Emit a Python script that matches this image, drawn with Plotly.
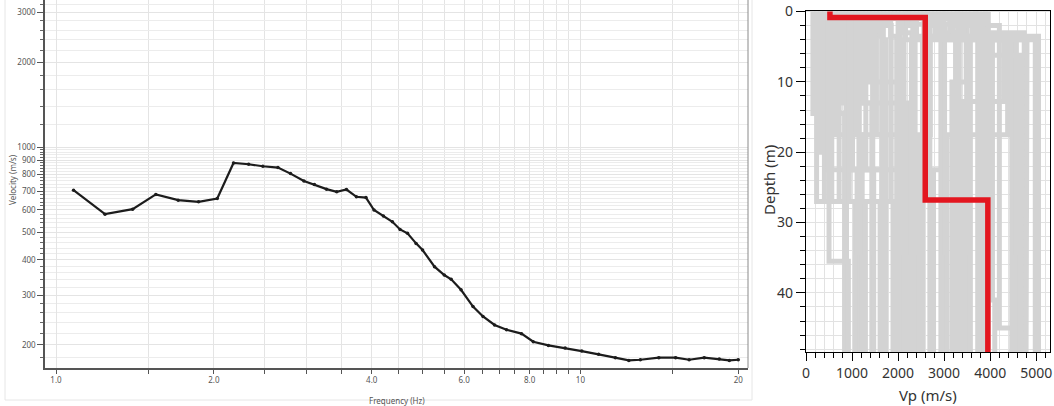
import plotly.graph_objects as go

# ---------------- Left panel: dispersion curve ----------------
freq_hz = [1.08, 1.24, 1.40, 1.55, 1.71, 1.87, 2.03, 2.18, 2.33, 2.48, 2.65, 2.80,
           2.97, 3.11, 3.28, 3.43, 3.58, 3.74, 3.90, 4.04, 4.21, 4.38, 4.53, 4.68,
           4.86, 5.00, 5.27, 5.50, 5.67, 5.92, 6.24, 6.52, 6.86, 7.23, 7.72, 8.13,
           8.69, 9.35, 10.06, 10.83, 11.66, 12.37, 13.01, 14.11, 15.19, 16.12,
           17.22, 18.40, 19.23, 20.0]
phase_vel = [705, 580, 604, 681, 650, 641, 659, 880, 871, 857, 848, 807,
             760, 738, 711, 696, 709, 668, 664, 600, 571, 545, 512, 496,
             457, 433, 378, 353, 341, 313, 273, 252, 235, 226, 219, 205,
             199, 195, 190, 185, 180, 176, 177, 180, 180, 177,
             180, 178, 176, 177]

freq_tick_vals = [1.0, 2.0, 4.0, 6.0, 8.0, 10, 20]
freq_tick_text = ["1.0", "2.0", "4.0", "6.0", "8.0", "10", "20"]
freq_minor_vals = [1.5, 2.5, 3.0, 3.5, 4.5, 5.0, 5.5, 6.5, 7.0, 7.5, 8.5, 9.0, 9.5, 15]
vel_tick_vals = [200, 300, 400, 500, 600, 700, 800, 900, 1000, 2000, 3000]
vel_tick_text = ["200", "300", "400", "500", "600", "700", "800", "900", "1000", "2000", "3000"]
vel_minor_vals = [160, 180, 220, 240, 260, 280, 320, 340, 360, 380, 420, 440, 460, 480,
                  520, 540, 560, 580, 620, 640, 660, 680, 720, 740, 760, 780,
                  820, 840, 860, 880, 920, 940, 960, 980,
                  1200, 1400, 1600, 1800, 2200, 2400, 2600, 2800, 3200]

# ---------------- Right panel: Vp profiles ----------------
# each profile: layer velocities (m/s) and layer-bottom depths (m); last layer to bottom
gray_vp = [
    [150, 840], [230, 880], [320, 500, 920], [400, 1070], [480, 1110], [560, 1170],
    [640, 1220], [720, 1290], [800, 1430], [870, 1470], [940, 1610],
    [1010, 1660], [1080, 1710], [1150, 1930], [1230, 1990], [1300, 2060],
    [1380, 2120], [1450, 2190], [1530, 2250],
    [1600, 1650], [1680, 1730], [1760, 1850, 1890], [1840, 1970], [1920, 2050],
    [2000, 2130], [2080, 2300, 2210], [2160, 2290], [2240, 2370], [2320, 2700, 2450],
    [2400, 2530], [2480, 2690], [2560, 2950, 2770], [2640, 2930], [2720, 3010],
    [2800, 3480, 3170], [2880, 3250], [2960, 3330], [3040, 3490], [3120, 3570],
    [3200, 3730], [3280, 3810], [3360, 3870], [3440, 4050, 4100], [3520, 4200, 4500],
    [3600, 4470], [3680, 4570], [3760, 4650], [3840, 4740], [3900, 4800, 4780],
    [3950, 4980], [3700, 5050], [2200, 3950], [3000, 4300, 3400], [3300, 4380, 3060],
]
gray_tops = [
    [14.5], [27], [20, 35.5], [27], [22.5], [27],
    [17.5], [27], [13], [22.5], [27],
    [22.5], [17.5], [27], [13], [22.5],
    [10], [27], [17.5],
    [3.5], [4], [2, 27], [3.5], [1],
    [4], [3, 13], [4], [2], [3.5, 17.5],
    [4], [1], [3.5, 22.5], [4], [2],
    [3.5, 10], [3], [4], [1], [4],
    [3.5], [2], [4], [3.5, 41], [2, 45],
    [4], [3.5], [6.2], [3], [4, 8],
    [4], [3.5], [1.8], [3.7, 12.8], [3.7, 17.5],
]
red_vp = [520, 2590, 3950]
red_tops = [0.85, 26.8]
model_bottom = 49.0


def step_path(vps, tops, bottom):
    bounds = [0.0] + list(tops) + [bottom]
    xs, ys = [], []
    for i, v in enumerate(vps):
        xs += [v, v]
        ys += [bounds[i], bounds[i + 1]]
    return xs, ys


gx, gy = [], []
for vps, tops in zip(gray_vp, gray_tops):
    xs, ys = step_path(vps, tops, model_bottom)
    gx += xs + [None]
    gy += ys + [None]
rx, ry = step_path(red_vp, red_tops, model_bottom)

W, H = 1054, 406
FONT = "Noto Sans"

fig = go.Figure()
fig.add_trace(go.Scatter(
    x=freq_hz, y=phase_vel, mode="lines+markers",
    line=dict(color="#1c1c1c", width=2.2),
    marker=dict(color="#1c1c1c", size=3.5),
    xaxis="x", yaxis="y", showlegend=False, hoverinfo="skip"))
fig.add_trace(go.Scatter(
    x=gx, y=gy, mode="lines", line=dict(color="#d3d3d3", width=5),
    xaxis="x2", yaxis="y2", showlegend=False, hoverinfo="skip"))
fig.add_trace(go.Scatter(
    x=rx, y=ry, mode="lines", line=dict(color="#e3161f", width=5.5),
    xaxis="x2", yaxis="y2", showlegend=False, hoverinfo="skip"))

small = dict(family=FONT, size=8, color="#555")
big = dict(family=FONT, size=14, color="#333")

fig.update_layout(
    width=W, height=H, margin=dict(l=0, r=0, t=0, b=0, autoexpand=False),
    paper_bgcolor="white", plot_bgcolor="white",
    font=dict(family=FONT),
    xaxis=dict(
        type="log", range=[-0.021, 1.3196], domain=[45 / W, 748 / W], automargin=False,
        tickmode="array", tickvals=freq_tick_vals, ticktext=freq_tick_text,
        ticks="outside", ticklen=4, tickcolor="#555", tickfont=small,
        showline=True, linecolor="#555", linewidth=1.5,
        showgrid=True, gridcolor="#e4e4e4", gridwidth=1, zeroline=False,
        minor=dict(tickmode="array", tickvals=freq_minor_vals, ticks="outside",
                   ticklen=4, tickcolor="#555", showgrid=True, gridcolor="#e4e4e4"),
        anchor="y"),
    yaxis=dict(
        type="log", range=[2.2188, 3.5214], domain=[(H - 368) / H, 1.0], automargin=False,
        tickmode="array", tickvals=vel_tick_vals, ticktext=vel_tick_text,
        ticks="outside", ticklen=6, tickcolor="#555", tickfont=small,
        showline=True, linecolor="#555", linewidth=1.5,
        showgrid=True, gridcolor="#e4e4e4", gridwidth=1, zeroline=False,
        minor=dict(tickmode="array", tickvals=vel_minor_vals, ticks="outside",
                   ticklen=3, tickcolor="#666", showgrid=True, gridcolor="#ececec"),
        anchor="x"),
    xaxis2=dict(
        range=[0, 5300], domain=[806 / W, 1050 / W], automargin=False,
        tickmode="linear", tick0=0, dtick=1000,
        ticks="outside", ticklen=8, tickcolor="black", tickfont=big,
        showline=True, linecolor="black", linewidth=1.2, mirror=True,
        showgrid=True, gridcolor="#e2e2e2", zeroline=False,
        minor=dict(dtick=200, ticks="outside", ticklen=5, tickcolor="black",
                   showgrid=True, gridcolor="#e2e2e2"),
        anchor="y2"),
    yaxis2=dict(
        range=[48.4, -0.15], domain=[(H - 352) / H, (H - 10.5) / H], automargin=False,
        tickmode="linear", tick0=0, dtick=10,
        ticks="outside", ticklen=9, tickcolor="black", tickfont=big,
        showline=True, linecolor="black", linewidth=1.2, mirror=True,
        showgrid=True, gridcolor="#e2e2e2", zeroline=False,
        minor=dict(dtick=2, ticks="outside", ticklen=5, tickcolor="black",
                   showgrid=True, gridcolor="#e2e2e2"),
        anchor="x2"),
)

# right border of the dispersion plot and faint window frame
fig.add_shape(type="line", xref="x domain", yref="y domain", x0=1, x1=1, y0=0, y1=1,
              line=dict(color="#8a8a8a", width=1))
fig.add_shape(type="rect", xref="paper", yref="paper",
              x0=5 / W, x1=752 / W, y0=(H - 400) / H, y1=1.05,
              line=dict(color="#e6e6e6", width=1), layer="below")

fig.add_annotation(text="Velocity (m/s)", xref="paper", yref="paper",
                   x=12 / W, y=(H - 180) / H, textangle=-90, showarrow=False,
                   font=small, xanchor="center", yanchor="middle")
fig.add_annotation(text="Frequency (Hz)", xref="paper", yref="paper",
                   x=397 / W, y=(H - 400) / H, showarrow=False,
                   font=small, xanchor="center", yanchor="middle")
fig.add_annotation(text="Depth (m)", xref="paper", yref="paper",
                   x=769 / W, y=(H - 180) / H, textangle=-90, showarrow=False,
                   font=dict(family=FONT, size=15, color="#333"),
                   xanchor="center", yanchor="middle")
fig.add_annotation(text="Vp (m/s)", xref="paper", yref="paper",
                   x=928 / W, y=(H - 395) / H, showarrow=False,
                   font=dict(family=FONT, size=15, color="#333"),
                   xanchor="center", yanchor="middle")

fig.write_html(
    "out.html",
    config={"displayModeBar": False},
    post_script="document.body.style.margin='0';document.body.style.overflow='hidden';",
)
